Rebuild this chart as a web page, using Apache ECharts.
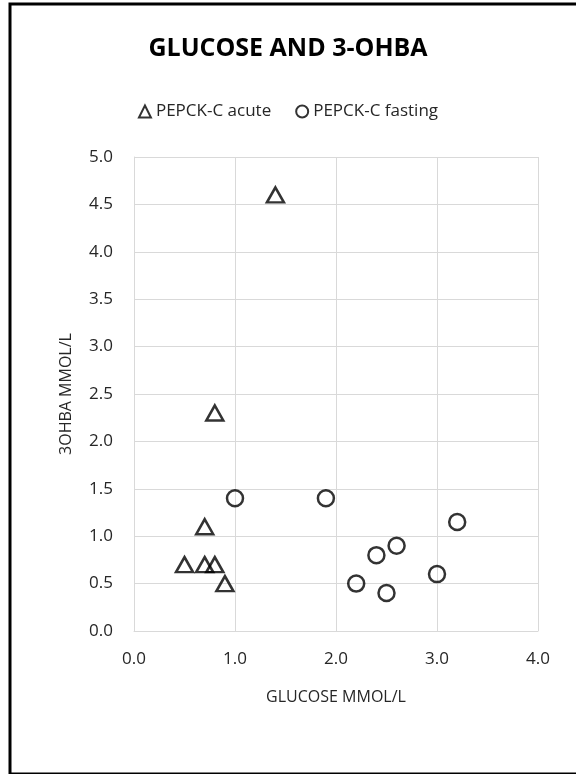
<!DOCTYPE html>
<html>
<head>
<meta charset="utf-8">
<script src="https://cdn.jsdelivr.net/npm/echarts@6/dist/echarts.min.js"></script>
<style>
html,body{margin:0;padding:0;background:#fff;}
#chart{width:576px;height:774px;}
</style>
</head>
<body>
<div id="chart"></div>
<script>
var acuteGlucose = [0.5, 0.7, 0.8, 0.9, 0.7, 0.8, 1.4];
var acuteOhba    = [0.7, 0.7, 0.7, 0.5, 1.1, 2.3, 4.6];
var fastGlucose  = [1.0, 1.9, 2.2, 2.4, 2.5, 2.6, 3.0, 3.2];
var fastOhba     = [1.4, 1.4, 0.5, 0.8, 0.4, 0.9, 0.6, 1.15];
var seriesNames  = ['PEPCK-C acute', 'PEPCK-C fasting'];

var myChart = echarts.init(document.getElementById('chart'));
var font = 'Open Sans';
var labelColor = '#262626';

function pairs(xs, ys){
    return xs.map(function(x, i){ return [x, ys[i]]; });
}

var option = {
    backgroundColor: '#fff',
    animation: false,
    textStyle: {fontFamily: font, color: '#000'},
    graphic: [{
        type: 'rect',
        shape: {x: 10, y: 4, width: 620, height: 770},
        style: {fill: 'none', stroke: '#000', lineWidth: 3},
        z: 100
    }],
    title: {
        text: 'GLUCOSE AND 3-OHBA',
        left: 'center',
        top: 31,
        textStyle: {fontFamily: font, fontSize: 25, fontWeight: 'bold', color: '#000'}
    },
    legend: {
        top: 98,
        left: 'center',
        itemWidth: 12,
        itemHeight: 12,
        itemGap: 24,
        textStyle: {fontFamily: font, fontSize: 17, color: labelColor},
        data: seriesNames
    },
    grid: {left: 134, top: 157, width: 404, height: 474, containLabel: false},
    xAxis: {
        type: 'value',
        min: 0, max: 4, interval: 1,
        name: 'GLUCOSE MMOL/L',
        nameLocation: 'middle',
        nameGap: 58,
        nameTextStyle: {fontFamily: font, fontSize: 16, color: labelColor},
        axisLine: {show: true, lineStyle: {color: '#d9d9d9'}},
        axisTick: {show: false},
        axisLabel: {margin: 20, fontSize: 17, color: labelColor, formatter: function(v){ return v.toFixed(1); }},
        splitLine: {show: true, lineStyle: {color: '#d9d9d9', width: 1}}
    },
    yAxis: {
        type: 'value',
        min: 0, max: 5, interval: 0.5,
        name: '3OHBA MMOL/L',
        nameLocation: 'middle',
        nameGap: 60,
        nameTextStyle: {fontFamily: font, fontSize: 16, color: labelColor},
        axisLine: {show: true, lineStyle: {color: '#d9d9d9'}},
        axisTick: {show: false},
        axisLabel: {margin: 21, fontSize: 17, color: labelColor, formatter: function(v){ return v.toFixed(1); }},
        splitLine: {show: true, lineStyle: {color: '#d9d9d9', width: 1}}
    },
    series: [{
        name: seriesNames[0],
        type: 'scatter',
        symbol: 'triangle',
        symbolSize: [17, 15],
        itemStyle: {color: 'rgba(255,255,255,0)', borderColor: '#000', borderWidth: 2.5},
        data: pairs(acuteGlucose, acuteOhba)
    }, {
        name: seriesNames[1],
        type: 'scatter',
        symbol: 'circle',
        symbolSize: 16,
        itemStyle: {color: 'rgba(255,255,255,0)', borderColor: '#000', borderWidth: 2.5},
        data: pairs(fastGlucose, fastOhba)
    }]
};

myChart.setOption(option);

window.onresize = function(){
    myChart.resize();
};
</script>
</body>
</html>
